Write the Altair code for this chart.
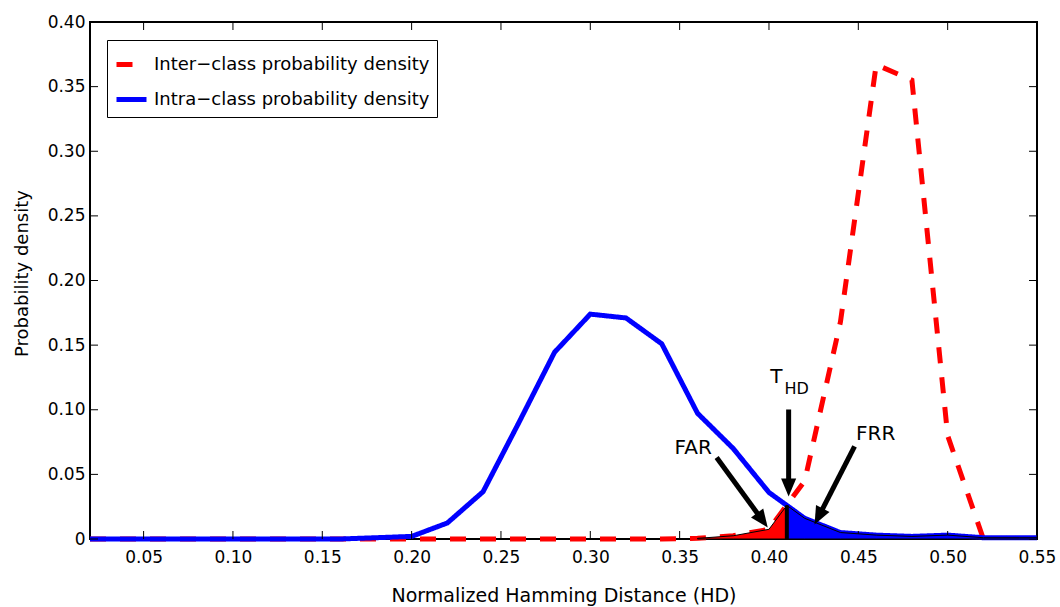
import math
import altair as alt
import pandas as pd

# ---------------- data ----------------
hd = [0.02, 0.04, 0.06, 0.08, 0.10, 0.12, 0.14, 0.16, 0.18, 0.20, 0.22, 0.24, 0.26, 0.28,
      0.30, 0.32, 0.34, 0.36, 0.38, 0.40, 0.42, 0.44, 0.46, 0.48, 0.50, 0.52, 0.54, 0.55]
inter = [0, 0, 0, 0, 0, 0, 0, 0, 0, 0, 0, 0, 0, 0, 0, 0, 0,
         0.0005, 0.0025, 0.0075, 0.045, 0.168, 0.367, 0.355, 0.080, 0.0, None, None]
intra = [0, 0, 0, 0, 0, 0, 0, 0,
         0.001, 0.002, 0.0124, 0.0366, 0.090, 0.1445, 0.174, 0.171, 0.151, 0.0973,
         0.070, 0.036, 0.016, 0.005, 0.003, 0.002, 0.003, 0.001, 0.001, 0.001]

series_names = ["Inter\u2212class probability density", "Intra\u2212class probability density"]

threshold = 0.41
threshold_val = 0.026

far_hd = [0.36, 0.38, 0.40, 0.41]
far_val = [0.0005, 0.0025, 0.0075, 0.026]
frr_hd = [0.41, 0.42, 0.44, 0.46, 0.48, 0.50, 0.52, 0.54, 0.55]
frr_val = [0.026, 0.016, 0.005, 0.003, 0.002, 0.003, 0.001, 0.001, 0.001]

x_ticks = [0.05, 0.10, 0.15, 0.20, 0.25, 0.30, 0.35, 0.40, 0.45, 0.50, 0.55]
y_ticks = [0.0, 0.05, 0.10, 0.15, 0.20, 0.25, 0.30, 0.35, 0.40]

# annotation arrows (start -> tip, in data units)
arrow_names = ["THD", "FAR", "FRR"]
arrow_x0 = [0.411, 0.3707, 0.4479]
arrow_y0 = [0.1002, 0.0631, 0.0716]
arrow_x1 = [0.411, 0.3993, 0.4255]
arrow_y1 = [0.0329, 0.0089, 0.0112]

label_text = ["FAR", "FRR", "T"]
label_x = [0.3576, 0.4597, 0.4041]
label_y = [0.0704, 0.0809, 0.1253]
sub_text = ["HD"]
sub_x = [0.4155]
sub_y = [0.1157]

# ---------------- layout ----------------
W, H = 947, 517
X_DOM = [0.02, 0.55]
Y_DOM = [0.0, 0.40]
FONT = "DejaVu Sans"

xs = alt.Scale(domain=X_DOM, nice=False, zero=False)
ys = alt.Scale(domain=Y_DOM, nice=False, zero=False)

x_axis = alt.Axis(
    values=x_ticks, format=".2f", title="Normalized Hamming Distance (HD)",
    ticks=False, tickSize=0, domain=False, grid=False,
    labelFont=FONT, labelFontSize=17, labelColor="black", labelPadding=10,
    labelFlush=False, labelOverlap=False, labelBound=False,
    titleFont=FONT, titleFontSize=19, titleFontWeight="normal", titleColor="black",
    titlePadding=21)
y_axis = alt.Axis(
    values=y_ticks, labelExpr="datum.value == 0 ? '0' : format(datum.value, '.2f')",
    title="Probability density",
    ticks=False, tickSize=0, domain=False, grid=False,
    labelFont=FONT, labelFontSize=17, labelColor="black", labelPadding=5,
    labelFlush=False, labelOverlap=False, labelBound=False,
    titleFont=FONT, titleFontSize=18, titleFontWeight="normal", titleColor="black",
    titlePadding=16, titleY=251)


def X(field):
    return alt.X(field, scale=xs, axis=x_axis)


def Y(field):
    return alt.Y(field, scale=ys, axis=y_axis)


rows = []
for name, vals in zip(series_names, [inter, intra]):
    for h, v in zip(hd, vals):
        rows.append({"hd": h, "val": v, "series": name})
curves = pd.DataFrame(rows)

legend = alt.Legend(
    title=None, orient="none", legendX=17, legendY=18,
    symbolType="stroke", symbolSize=900, symbolStrokeWidth=5,
    labelFont=FONT, labelFontSize=18, labelColor="black", labelOffset=5,
    strokeColor="black", fillColor="white", padding=7, rowPadding=7,
    labelLimit=400,
)

lines = alt.Chart(curves).mark_line(strokeWidth=5, strokeCap="butt", strokeJoin="miter").encode(
    x=X("hd:Q"),
    y=Y("val:Q"),
    color=alt.Color("series:N", scale=alt.Scale(domain=series_names, range=["#ff0000", "#0000ff"]),
                    legend=legend),
    strokeDash=alt.StrokeDash("series:N", scale=alt.Scale(domain=series_names, range=[[16, 14], [1, 0]]),
                              legend=legend),
    order=alt.Order("hd:Q"),
)

far_df = pd.DataFrame({"hd": far_hd, "val": far_val})
frr_df = pd.DataFrame({"hd": frr_hd, "val": frr_val})

far_area = alt.Chart(far_df).mark_area(color="#ff0000", stroke="black", strokeWidth=1, opacity=1).encode(
    x=X("hd:Q"), y=Y("val:Q"))
frr_area = alt.Chart(frr_df).mark_area(color="#0000ff", stroke="black", strokeWidth=1, opacity=1).encode(
    x=X("hd:Q"), y=Y("val:Q"))

thr_df = pd.DataFrame({"hd": [threshold], "val": [0.0], "v1": [threshold_val]})
thr_rule = alt.Chart(thr_df).mark_rule(color="black", strokeWidth=4).encode(
    x=X("hd:Q"), y=Y("val:Q"), y2="v1:Q")

# arrow geometry: shaft stops a little before the tip, head drawn at the tip
px_x = W / (X_DOM[1] - X_DOM[0])
px_y = H / (Y_DOM[1] - Y_DOM[0])
arows = []
for n, a, b, c, d in zip(arrow_names, arrow_x0, arrow_y0, arrow_x1, arrow_y1):
    dx = (c - a) * px_x
    dy = -(d - b) * px_y  # screen direction (down positive)
    L = math.hypot(dx, dy)
    ux, uy = dx / L, dy / L
    back = 10.0
    sx = c - ux * back / px_x
    sy = d + uy * back / px_y
    ang = math.degrees(math.atan2(-ux, uy)) % 360
    arows.append({"name": n, "hd": a, "val": b, "xs": sx, "ys": sy, "x1": c, "y1": d, "ang": ang})
arrow_df = pd.DataFrame(arows)

shafts = alt.Chart(arrow_df).mark_rule(color="black", strokeWidth=5, strokeCap="butt").encode(
    x=X("hd:Q"), y=Y("val:Q"), x2="xs:Q", y2="ys:Q")
heads = alt.Chart(arrow_df).mark_point(
    shape="M0,0L-0.42,-1L0.42,-1Z", filled=True, color="black", opacity=1, size=1296, strokeWidth=0
).encode(
    x=X("x1:Q"), y=Y("y1:Q"),
    angle=alt.Angle("ang:Q", scale=None))

lab_df = pd.DataFrame({"t": label_text, "hd": label_x, "val": label_y})
labels = alt.Chart(lab_df).mark_text(font=FONT, fontSize=20, color="black", align="center",
                                     baseline="middle").encode(
    x=X("hd:Q"), y=Y("val:Q"), text="t:N")
sub_df = pd.DataFrame({"t": sub_text, "hd": sub_x, "val": sub_y})
sublab = alt.Chart(sub_df).mark_text(font=FONT, fontSize=16, color="black", align="center",
                                     baseline="middle").encode(
    x=X("hd:Q"), y=Y("val:Q"), text="t:N")

# inward tick marks on all four sides
xt_df = pd.DataFrame({"hd": x_ticks})
yt_df = pd.DataFrame({"val": y_ticks})
tick_len = 8
xt_bottom = alt.Chart(xt_df).mark_rule(color="black", strokeWidth=1).encode(
    x=X("hd:Q"), y=alt.value(H), y2=alt.value(H - tick_len))
xt_top = alt.Chart(xt_df).mark_rule(color="black", strokeWidth=1).encode(
    x=X("hd:Q"), y=alt.value(0), y2=alt.value(tick_len))
yt_left = alt.Chart(yt_df).mark_rule(color="black", strokeWidth=1).encode(
    y=Y("val:Q"), x=alt.value(0), x2=alt.value(tick_len))
yt_right = alt.Chart(yt_df).mark_rule(color="black", strokeWidth=1).encode(
    y=Y("val:Q"), x=alt.value(W), x2=alt.value(W - tick_len))

chart = alt.layer(
    lines, xt_bottom, xt_top, yt_left, yt_right, far_area, frr_area, thr_rule, shafts, heads, labels, sublab
).properties(
    width=W, height=H,
    autosize=alt.AutoSizeParams(type="none"),
    padding={"left": 90, "top": 22, "right": 23, "bottom": 68},
    background="white",
).configure_view(stroke="black", strokeWidth=2)

chart.save("out.html", embed_options={"renderer": "svg", "actions": False})
